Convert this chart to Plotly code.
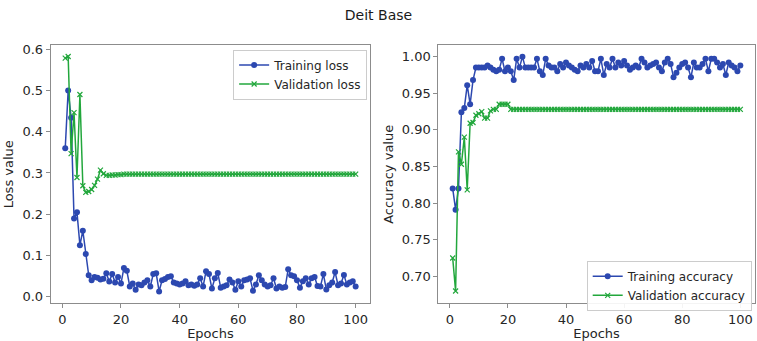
import plotly.graph_objects as go

epochs = list(range(1, 101))

train_loss = [
    0.36, 0.50, 0.434, 0.19, 0.205, 0.125, 0.16, 0.104, 0.052, 0.04,
    0.048, 0.046, 0.042, 0.044, 0.057, 0.037, 0.055, 0.035, 0.048, 0.032,
    0.07, 0.063, 0.025, 0.032, 0.017, 0.03, 0.028, 0.035, 0.04, 0.025,
    0.055, 0.057, 0.013, 0.04, 0.043, 0.048, 0.05, 0.035, 0.032, 0.03,
    0.032, 0.038, 0.028, 0.03, 0.027, 0.03, 0.045, 0.025, 0.062, 0.055,
    0.02, 0.045, 0.058, 0.022, 0.025, 0.028, 0.042, 0.035, 0.017, 0.038,
    0.025, 0.04, 0.042, 0.045, 0.015, 0.03, 0.052, 0.04, 0.03, 0.025,
    0.028, 0.045, 0.02, 0.025, 0.022, 0.024, 0.067, 0.052, 0.05, 0.04,
    0.022, 0.038, 0.045, 0.03, 0.045, 0.048, 0.026, 0.025, 0.055, 0.018,
    0.028, 0.035, 0.06, 0.028, 0.032, 0.053, 0.03, 0.035, 0.038, 0.025,
]

val_loss = [
    0.578, 0.582, 0.347, 0.446, 0.289, 0.49, 0.269, 0.253, 0.255, 0.26,
    0.27, 0.285, 0.307, 0.298, 0.294, 0.294, 0.295, 0.295, 0.296, 0.296,
    0.297, 0.297, 0.297, 0.297, 0.297, 0.297, 0.297, 0.297, 0.297, 0.297,
    0.297, 0.297, 0.297, 0.297, 0.297, 0.297, 0.297, 0.297, 0.297, 0.297,
    0.297, 0.297, 0.297, 0.297, 0.297, 0.297, 0.297, 0.297, 0.297, 0.297,
    0.297, 0.297, 0.297, 0.297, 0.297, 0.297, 0.297, 0.297, 0.297, 0.297,
    0.297, 0.297, 0.297, 0.297, 0.297, 0.297, 0.297, 0.297, 0.297, 0.297,
    0.297, 0.297, 0.297, 0.297, 0.297, 0.297, 0.297, 0.297, 0.297, 0.297,
    0.297, 0.297, 0.297, 0.297, 0.297, 0.297, 0.297, 0.297, 0.297, 0.297,
    0.297, 0.297, 0.297, 0.297, 0.297, 0.297, 0.297, 0.297, 0.297, 0.297,
]

train_acc = [
    0.82, 0.791, 0.82, 0.924, 0.93, 0.961, 0.935, 0.968, 0.985, 0.985,
    0.985, 0.985, 0.988, 0.985, 0.982, 0.98, 0.982, 0.997, 0.98, 0.985,
    0.98, 0.968, 0.997, 0.985, 1.0, 0.985, 0.985, 0.985, 0.985, 0.997,
    0.98, 0.975, 0.997, 0.988, 0.985, 0.985, 0.98, 0.99, 0.985, 0.992,
    0.988, 0.985, 0.982, 0.98, 0.988, 0.985, 0.99, 0.985, 0.994, 0.98,
    0.98, 0.997, 0.975, 0.99, 0.985, 0.997, 0.985, 0.992, 0.988, 0.994,
    0.988, 0.982, 0.985, 0.988, 0.985, 0.997, 0.992, 0.985, 0.988, 0.99,
    0.992, 0.985, 0.98, 0.992, 0.997, 0.99, 0.972, 0.978, 0.985, 0.99,
    0.992, 0.985, 0.972, 0.992, 0.985, 0.985, 0.99, 0.997, 0.98, 0.997,
    0.997, 0.992, 0.985, 0.99, 0.975, 0.992, 0.988, 0.985, 0.98, 0.988,
]

val_acc = [
    0.725, 0.68, 0.87, 0.853, 0.89, 0.818, 0.909, 0.91, 0.92, 0.922,
    0.925, 0.916, 0.916, 0.926, 0.928, 0.928, 0.935, 0.935, 0.935, 0.935,
    0.928, 0.928, 0.928, 0.928, 0.928, 0.928, 0.928, 0.928, 0.928, 0.928,
    0.928, 0.928, 0.928, 0.928, 0.928, 0.928, 0.928, 0.928, 0.928, 0.928,
    0.928, 0.928, 0.928, 0.928, 0.928, 0.928, 0.928, 0.928, 0.928, 0.928,
    0.928, 0.928, 0.928, 0.928, 0.928, 0.928, 0.928, 0.928, 0.928, 0.928,
    0.928, 0.928, 0.928, 0.928, 0.928, 0.928, 0.928, 0.928, 0.928, 0.928,
    0.928, 0.928, 0.928, 0.928, 0.928, 0.928, 0.928, 0.928, 0.928, 0.928,
    0.928, 0.928, 0.928, 0.928, 0.928, 0.928, 0.928, 0.928, 0.928, 0.928,
    0.928, 0.928, 0.928, 0.928, 0.928, 0.928, 0.928, 0.928, 0.928, 0.928,
]

loss_ticks = [0.0, 0.1, 0.2, 0.3, 0.4, 0.5, 0.6]
acc_ticks = [0.70, 0.75, 0.80, 0.85, 0.90, 0.95, 1.00]
epoch_ticks = [0, 20, 40, 60, 80, 100]

BLUE = "#2c48b0"
GREEN = "#22a73c"
FONT = "DejaVu Sans"
TXT = "#262626"

fig = go.Figure()
fig.add_trace(go.Scatter(x=epochs, y=train_loss, mode="lines+markers", name="Training loss",
                         line=dict(color=BLUE, width=1.5), marker=dict(symbol="circle", size=6, color=BLUE),
                         xaxis="x", yaxis="y", legend="legend"))
fig.add_trace(go.Scatter(x=epochs, y=val_loss, mode="lines+markers", name="Validation loss",
                         line=dict(color=GREEN, width=1.5), marker=dict(symbol="x-thin", size=5, color=GREEN,
                         line=dict(color=GREEN, width=1.2)),
                         xaxis="x", yaxis="y", legend="legend"))
fig.add_trace(go.Scatter(x=epochs, y=train_acc, mode="lines+markers", name="Training accuracy",
                         line=dict(color=BLUE, width=1.5), marker=dict(symbol="circle", size=6, color=BLUE),
                         xaxis="x2", yaxis="y2", legend="legend2"))
fig.add_trace(go.Scatter(x=epochs, y=val_acc, mode="lines+markers", name="Validation accuracy",
                         line=dict(color=GREEN, width=1.5), marker=dict(symbol="x-thin", size=5, color=GREEN,
                         line=dict(color=GREEN, width=1.2)),
                         xaxis="x2", yaxis="y2", legend="legend2"))

axis_common = dict(showgrid=False, zeroline=False, showline=True, mirror=True,
                   linecolor="#8c8c8c", linewidth=1, ticks="outside", ticklen=4,
                   tickcolor="#8c8c8c", tickfont=dict(family=FONT, size=13, color=TXT))

fig.update_layout(
    width=757, height=341,
    margin=dict(l=0, r=0, t=0, b=0),
    paper_bgcolor="white", plot_bgcolor="white",
    font=dict(family=FONT, color=TXT),
    title=dict(text="Deit Base", x=0.5, xanchor="center", y=0.955, yanchor="middle",
               font=dict(family=FONT, size=14, color="#1a1a1a")),
    xaxis=dict(domain=[0.067, 0.489], range=[-3.95, 104.95], tickvals=epoch_ticks,
               title=dict(text="Epochs", font=dict(family=FONT, size=13), standoff=1), anchor="y", **axis_common),
    yaxis=dict(domain=[0.1085, 0.875], range=[-0.016, 0.6096], tickvals=loss_ticks, tickformat=".1f",
               title=dict(text="Loss value", font=dict(family=FONT, size=13), standoff=5), anchor="x", **axis_common),
    xaxis2=dict(domain=[0.579, 0.997], range=[-3.95, 104.95], tickvals=epoch_ticks,
                title=dict(text="Epochs", font=dict(family=FONT, size=13), standoff=1), anchor="y2", **axis_common),
    yaxis2=dict(domain=[0.1085, 0.875], range=[0.663, 1.0157], tickvals=acc_ticks, tickformat=".2f",
                title=dict(text="Accuracy value", font=dict(family=FONT, size=13), standoff=5), anchor="x2", **axis_common),
    legend=dict(x=0.485, xanchor="right", y=0.862, yanchor="top", bgcolor="rgba(255,255,255,0.9)",
                bordercolor="#cccccc", borderwidth=1, font=dict(family=FONT, size=12, color=TXT),
                tracegroupgap=0, itemwidth=30),
    legend2=dict(x=0.993, xanchor="right", y=0.235, yanchor="top", bgcolor="rgba(255,255,255,0.9)",
                 bordercolor="#cccccc", borderwidth=1, font=dict(family=FONT, size=12, color=TXT),
                 tracegroupgap=0, itemwidth=30),
)

fig.write_html("out.html")
